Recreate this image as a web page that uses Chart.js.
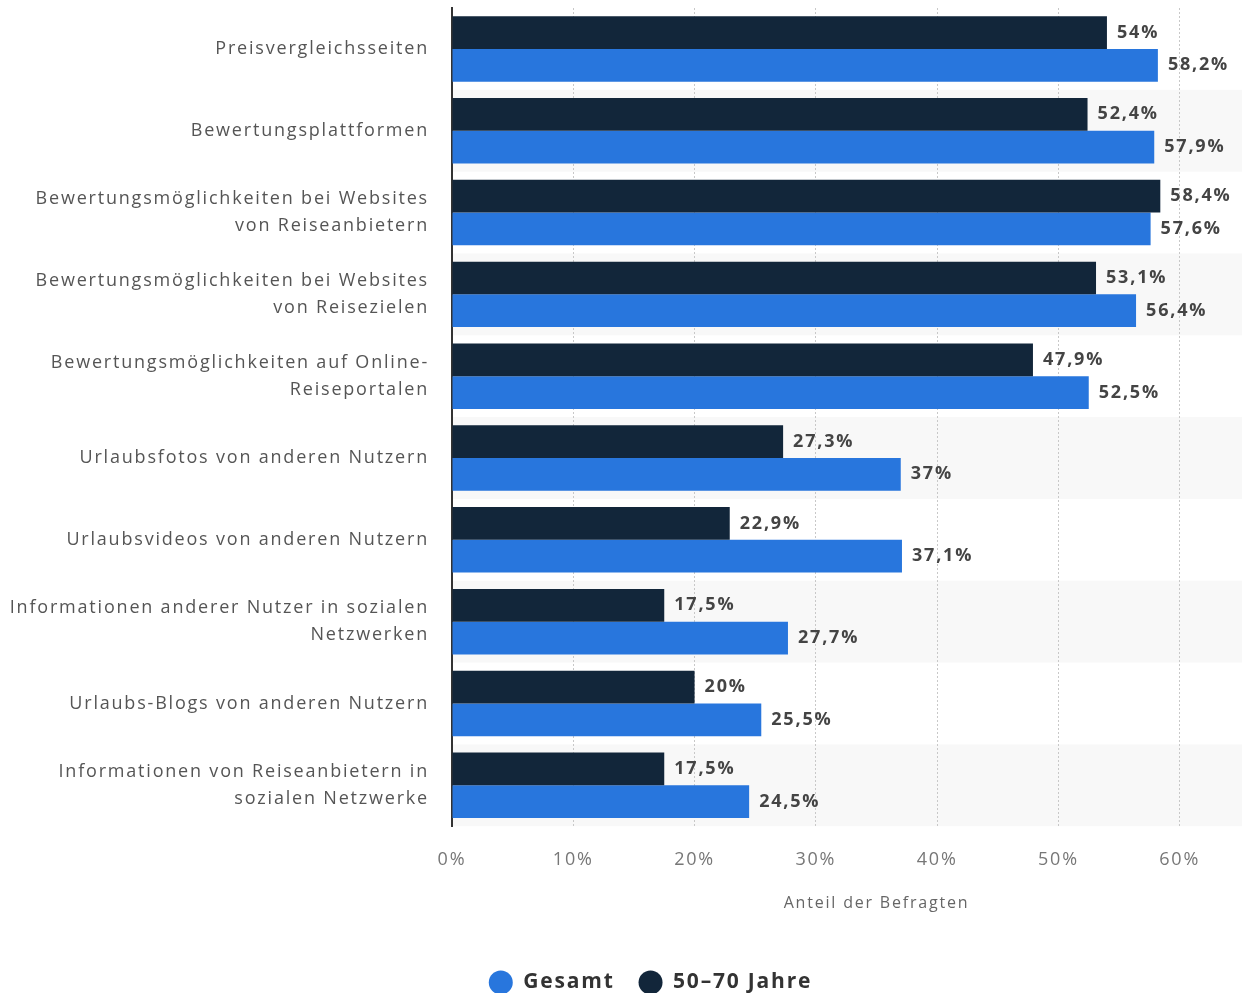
<!DOCTYPE html>
<html>
<head>
<meta charset="utf-8">
<script src="https://cdn.jsdelivr.net/npm/chart.js@4.4.1/dist/chart.umd.min.js"></script>
<style>
    body { margin: 0; overflow: hidden; background: #ffffff; }
    #wrap { position: absolute; left: 0; top: 0; width: 1302px; height: 993px; }
</style>
</head>
<body>
<div id="wrap"><canvas id="surveyChart"></canvas></div>
<script>
// Categories (y axis)
const categories = [
    'Preisvergleichsseiten',
    'Bewertungsplattformen',
    ['Bewertungsmöglichkeiten bei Websites', 'von Reiseanbietern'],
    ['Bewertungsmöglichkeiten bei Websites', 'von Reisezielen'],
    ['Bewertungsmöglichkeiten auf Online-', 'Reiseportalen'],
    'Urlaubsfotos von anderen Nutzern',
    'Urlaubsvideos von anderen Nutzern',
    ['Informationen anderer Nutzer in sozialen', 'Netzwerken'],
    'Urlaubs-Blogs von anderen Nutzern',
    ['Informationen von Reiseanbietern in', 'sozialen Netzwerke']
];

// Series values (percent)
const ageGroupValues = [54, 52.4, 58.4, 53.1, 47.9, 27.3, 22.9, 17.5, 20, 17.5];
const totalValues = [58.2, 57.9, 57.6, 56.4, 52.5, 37, 37.1, 27.7, 25.5, 24.5];

// X axis ticks
const xTicks = [0, 10, 20, 30, 40, 50, 60, 70];

const FONT = '"Open Sans", sans-serif';
const LETTER_SPACING = '1.8px';

const fmtPct = v => v.toLocaleString('de-DE') + '%';

// The source chart uses slightly spaced-out lettering
const letterSpacingPlugin = {
    id: 'letterSpacing',
    beforeUpdate(chart) { chart.ctx.letterSpacing = LETTER_SPACING; },
    beforeDraw(chart) { chart.ctx.letterSpacing = LETTER_SPACING; }
};

// Alternating light row bands behind every second category
const rowBandsPlugin = {
    id: 'rowBands',
    beforeDraw(chart) {
        const { ctx, chartArea: { left, right }, scales: { y } } = chart;
        const step = Math.abs(y.getPixelForValue(1) - y.getPixelForValue(0));
        ctx.save();
        ctx.fillStyle = '#f8f8f8';
        categories.forEach((c, i) => {
            if (i % 2 === 1) {
                const cy = y.getPixelForValue(i);
                ctx.fillRect(left, cy - step / 2, right - left, step);
            }
        });
        ctx.restore();
    }
};

// Value labels at the end of each bar
const barValueLabelsPlugin = {
    id: 'barValueLabels',
    afterDatasetsDraw(chart) {
        const { ctx } = chart;
        ctx.save();
        ctx.font = 'bold 18px ' + FONT;
        ctx.fillStyle = '#444444';
        ctx.textAlign = 'left';
        ctx.textBaseline = 'middle';
        chart.data.datasets.forEach((ds, di) => {
            chart.getDatasetMeta(di).data.forEach((bar, i) => {
                ctx.fillText(fmtPct(ds.data[i]), bar.x + 10, bar.y);
            });
        });
        ctx.restore();
    }
};

const ctx = document.getElementById('surveyChart').getContext('2d');
new Chart(ctx, {
    type: 'bar',
    data: {
        labels: categories,
        datasets: [
            {
                label: '50–70 Jahre',
                data: ageGroupValues,
                backgroundColor: '#12263a',
                barPercentage: 1,
                categoryPercentage: 0.8
            },
            {
                label: 'Gesamt',
                data: totalValues,
                backgroundColor: '#2876dd',
                barPercentage: 1,
                categoryPercentage: 0.8
            }
        ]
    },
    plugins: [letterSpacingPlugin, rowBandsPlugin, barValueLabelsPlugin],
    options: {
        indexAxis: 'y',
        responsive: true,
        maintainAspectRatio: false,
        animation: false,
        layout: { padding: { top: 8, right: 1, bottom: -10, left: 0 } },
        plugins: {
            tooltip: { enabled: false },
            legend: {
                position: 'bottom',
                reverse: true,
                labels: {
                    usePointStyle: true,
                    pointStyle: 'circle',
                    boxHeight: 17,
                    pointStyleWidth: 24,
                    padding: 24,
                    color: '#333333',
                    font: { family: FONT, size: 21, weight: 'bold' }
                }
            }
        },
        scales: {
            x: {
                min: 0,
                max: 70,
                afterBuildTicks(scale) {
                    scale.ticks = xTicks.map(v => ({ value: v }));
                },
                afterFit(scale) {
                    // no extra room for the outer tick labels
                    scale.paddingLeft = 0;
                    scale.paddingRight = 0;
                },
                border: { display: false, dash: [2, 2] },
                grid: {
                    color: '#c8c8c8',
                    lineWidth: 1,
                    drawTicks: false
                },
                ticks: {
                    padding: 23,
                    color: '#777777',
                    font: { family: FONT, size: 18 },
                    callback: v => v + '%'
                },
                title: {
                    display: true,
                    text: 'Anteil der Befragten',
                    color: '#666666',
                    padding: { top: 0, bottom: 35 },
                    font: { family: FONT, size: 16 }
                }
            },
            y: {
                afterFit(scale) {
                    scale.width = 452;
                    scale.paddingTop = 0;
                    scale.paddingBottom = 0;
                },
                border: { display: true, color: '#333333', width: 2 },
                grid: { display: false, drawTicks: false },
                ticks: {
                    padding: 23,
                    color: '#555555',
                    font: { family: FONT, size: 18, lineHeight: 1.5 }
                }
            }
        }
    }
});
</script>
</body>
</html>
